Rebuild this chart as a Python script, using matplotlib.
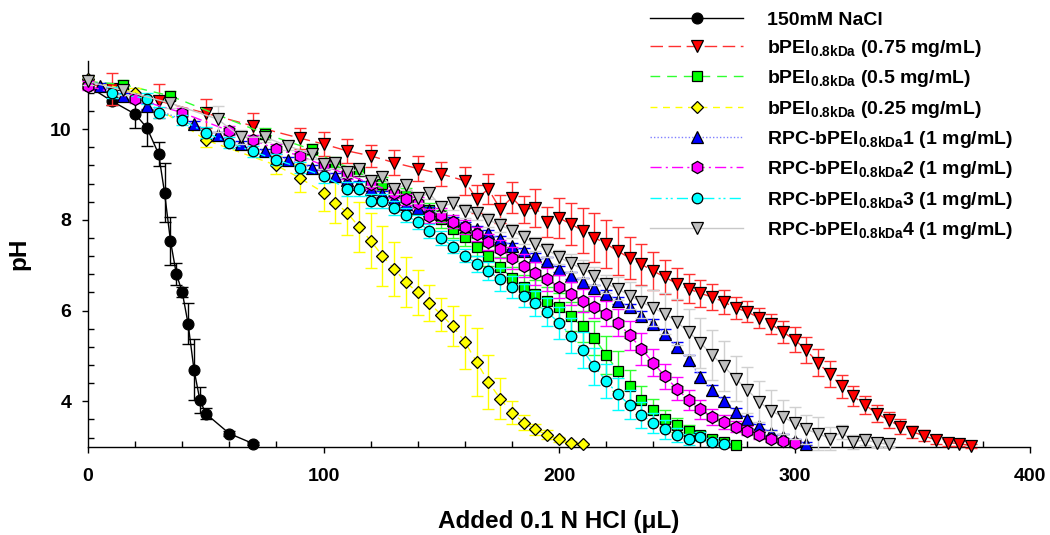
import matplotlib
matplotlib.use('Agg')
import matplotlib.pyplot as plt
from matplotlib.ticker import MultipleLocator

plt.rcParams['font.family'] = ['Liberation Sans', 'DejaVu Sans']
plt.rcParams['font.weight'] = 'bold'
plt.rcParams['mathtext.fontset'] = 'custom'
plt.rcParams['mathtext.rm'] = 'Liberation Sans:bold'
plt.rcParams['mathtext.bf'] = 'Liberation Sans:bold'
plt.rcParams['mathtext.it'] = 'Liberation Sans:bold'
plt.rcParams['mathtext.default'] = 'rm'

# 150mM NaCl
nacl_x = [0, 10, 20, 25, 30, 32.5, 35, 37.5, 40, 42.5, 45, 47.5, 50, 60, 70]
nacl_y = [10.95, 10.62, 10.33, 10.03, 9.45, 8.60, 7.54, 6.81, 6.41, 5.71, 4.70, 4.03, 3.73, 3.29, 3.07]
nacl_err = [0.05, 0.08, 0.30, 0.40, 0.27, 0.65, 0.53, 0.24, 0.10, 0.45, 0.68, 0.28, 0.13, 0.05, 0.03]

# bPEI 0.75 mg/mL
red_x = [0, 10, 30, 50, 70, 90, 100, 110, 120, 130, 140, 150, 160,
         165, 170, 175, 180, 185, 190, 195, 200, 205, 210, 215, 220, 225, 230, 235, 240, 245,
         250, 255, 260, 265, 270, 275, 280, 285, 290, 295, 300, 305, 310, 315, 320, 325,
         330, 335, 340, 345, 350, 355, 360, 365, 370, 375]
red_y = [11.0, 10.88, 10.62, 10.35, 10.07, 9.80, 9.67, 9.52, 9.41, 9.26, 9.13, 9.01, 8.86,
         8.46, 8.68, 8.24, 8.49, 8.22, 8.27, 7.96, 8.04, 7.91, 7.76, 7.61, 7.47, 7.31, 7.16, 7.02, 6.87, 6.74,
         6.59, 6.48, 6.38, 6.30, 6.19, 6.06, 5.97, 5.84, 5.70, 5.53, 5.36, 5.13, 4.85, 4.60, 4.33, 4.11,
         3.92, 3.73, 3.59, 3.44, 3.33, 3.24, 3.15, 3.09, 3.07, 3.02]
red_err = [0.10, 0.36, 0.38, 0.32, 0.29, 0.23, 0.26, 0.26, 0.24, 0.27, 0.27, 0.27, 0.31,
           0.30, 0.33, 0.30, 0.35, 0.30, 0.42, 0.33, 0.45, 0.47, 0.49, 0.53, 0.53, 0.53, 0.47, 0.45, 0.42, 0.38,
           0.35, 0.32, 0.30, 0.28, 0.26, 0.25, 0.23, 0.22, 0.22, 0.24, 0.28, 0.29, 0.30, 0.29, 0.26, 0.22,
           0.20, 0.18, 0.18, 0.17, 0.13, 0.12, 0.10, 0.08, 0.06, 0.04]

# bPEI 0.5 mg/mL
green_x = [0, 15, 35, 75, 95, 105, 115, 125, 135, 145,
           150, 155, 160, 165, 170, 175, 180, 185, 190, 195, 200, 205, 210, 215, 220,
           225, 230, 235, 240, 245, 250, 255, 260, 265, 270, 275]
green_y = [11.05, 10.98, 10.73, 9.90, 9.55, 9.26, 9.08, 8.80, 8.55, 8.22,
           8.02, 7.80, 7.62, 7.41, 7.20, 6.96, 6.72, 6.53, 6.37, 6.22, 6.08, 5.87, 5.65, 5.40, 5.02,
           4.67, 4.33, 4.03, 3.81, 3.62, 3.48, 3.35, 3.25, 3.18, 3.10, 3.03]
green_err = [0.08, 0.10, 0.10, 0.12, 0.12, 0.12, 0.12, 0.15, 0.15, 0.15,
             0.20, 0.20, 0.20, 0.20, 0.22, 0.22, 0.25, 0.25, 0.30, 0.30, 0.30, 0.32, 0.35, 0.38, 0.42,
             0.44, 0.37, 0.30, 0.25, 0.18, 0.15, 0.12, 0.10, 0.08, 0.06, 0.04]

# bPEI 0.25 mg/mL
yellow_x = [0, 20, 50, 80, 90, 100, 105, 110, 115, 120, 125, 130, 135, 140, 145, 150,
            155, 160, 165, 170, 175, 180, 185, 190, 195, 200, 205, 210]
yellow_y = [11.1, 10.8, 9.76, 9.20, 8.92, 8.60, 8.38, 8.16, 7.85, 7.54, 7.21, 6.92, 6.62, 6.40, 6.16, 5.91,
            5.65, 5.31, 4.87, 4.43, 4.06, 3.75, 3.53, 3.38, 3.26, 3.16, 3.09, 3.06]
yellow_err = [0.08, 0.10, 0.15, 0.20, 0.30, 0.40, 0.45, 0.50, 0.55, 0.60, 0.66, 0.60, 0.55, 0.50, 0.40, 0.37,
              0.44, 0.60, 0.75, 0.60, 0.46, 0.26, 0.17, 0.12, 0.10, 0.06, 0.04, 0.03]

# RPC-bPEI 1
blue_x = [5, 15, 25, 45, 55, 65, 75, 85, 95,
          105, 110, 115, 120, 125, 130, 135, 140, 145, 150, 155, 160, 165, 170, 175, 180,
          185, 190, 195, 200, 205, 210, 215, 220, 225, 230, 235, 240, 245, 250, 255, 260,
          265, 270, 275, 280, 285, 290, 295, 300, 305]
blue_y = [10.95, 10.73, 10.51, 10.11, 9.87, 9.67, 9.51, 9.32, 9.15,
          8.97, 8.88, 8.79, 8.69, 8.57, 8.46, 8.35, 8.26, 8.22, 8.12, 8.00, 7.90, 7.80, 7.70, 7.58, 7.43,
          7.31, 7.20, 7.10, 6.92, 6.77, 6.63, 6.49, 6.37, 6.22, 6.07, 5.89, 5.71, 5.49, 5.20, 4.91, 4.54,
          4.25, 4.01, 3.77, 3.60, 3.45, 3.31, 3.22, 3.12, 3.07]
blue_err = [0.06, 0.06, 0.06, 0.06, 0.06, 0.06, 0.06, 0.06, 0.06,
            0.06, 0.06, 0.06, 0.06, 0.06, 0.06, 0.06, 0.06, 0.06, 0.06, 0.06, 0.06, 0.07, 0.07, 0.07, 0.07,
            0.07, 0.07, 0.07, 0.07, 0.07, 0.08, 0.08, 0.08, 0.08, 0.08, 0.09, 0.10, 0.10, 0.10, 0.10, 0.10,
            0.10, 0.09, 0.08, 0.07, 0.06, 0.05, 0.05, 0.04, 0.04]

# RPC-bPEI 2
mag_x = [0, 20, 40, 60, 70, 80, 90, 100, 110, 120, 130,
         135, 140, 145, 150, 155, 160, 165, 170, 175, 180, 185, 190, 195, 200, 205, 210,
         215, 220, 225, 230, 235, 240, 245, 250, 255, 260, 265, 270, 275, 280, 285, 290, 295, 300]
mag_y = [10.95, 10.67, 10.36, 9.96, 9.76, 9.56, 9.41, 9.20, 9.00, 8.80, 8.60,
         8.45, 8.38, 8.09, 8.11, 7.96, 7.84, 7.69, 7.51, 7.36, 7.16, 6.99, 6.82, 6.69, 6.53, 6.37, 6.22,
         6.08, 5.93, 5.73, 5.46, 5.16, 4.85, 4.55, 4.28, 4.03, 3.82, 3.66, 3.54, 3.44, 3.35, 3.26, 3.18, 3.13, 3.09]
mag_err = [0.10, 0.10, 0.10, 0.10, 0.10, 0.10, 0.10, 0.10, 0.10, 0.12, 0.12,
           0.12, 0.12, 0.15, 0.15, 0.15, 0.15, 0.15, 0.18, 0.20, 0.25, 0.25, 0.25, 0.25, 0.25, 0.25, 0.25,
           0.25, 0.28, 0.30, 0.32, 0.35, 0.30, 0.27, 0.25, 0.22, 0.20, 0.18, 0.15, 0.12, 0.10, 0.08, 0.06, 0.05, 0.04]

# RPC-bPEI 3
cyan_x = [10, 25, 30, 40, 50, 60, 70, 80, 90, 100, 110,
          115, 120, 125, 130, 135, 140, 145, 150, 155, 160, 165, 170, 175, 180, 185,
          190, 195, 200, 205, 210, 215, 220, 225, 230, 235, 240, 245, 250, 255, 260, 265, 270]
cyan_y = [10.80, 10.67, 10.36, 10.20, 9.92, 9.70, 9.51, 9.32, 9.15, 8.97, 8.68,
          8.68, 8.42, 8.42, 8.26, 8.10, 7.95, 7.76, 7.60, 7.41, 7.21, 7.03, 6.87, 6.69, 6.52, 6.33,
          6.16, 5.97, 5.73, 5.45, 5.13, 4.77, 4.45, 4.16, 3.92, 3.70, 3.53, 3.38, 3.26, 3.16, 3.22, 3.11, 3.07]
cyan_err = [0.12, 0.12, 0.12, 0.12, 0.12, 0.12, 0.12, 0.12, 0.12, 0.15, 0.15,
            0.15, 0.15, 0.15, 0.15, 0.15, 0.15, 0.15, 0.15, 0.15, 0.15, 0.18, 0.20, 0.25, 0.25, 0.25,
            0.28, 0.30, 0.35, 0.38, 0.40, 0.40, 0.38, 0.35, 0.32, 0.28, 0.22, 0.20, 0.15, 0.12, 0.10, 0.08, 0.05]

# RPC-bPEI 4
gray_x = [0, 15, 35, 55, 65, 75, 85, 95,
          100, 105, 110, 115, 120, 125, 130, 135, 140, 145, 150, 155, 160, 165, 170,
          175, 180, 185, 190, 195, 200, 205, 210, 215, 220, 225, 230, 235, 240, 245,
          250, 255, 260, 265, 270, 275, 280, 285, 290, 295, 300, 305, 310, 315, 320,
          325, 330, 335, 340]
gray_y = [11.05, 10.85, 10.57, 10.22, 9.82, 9.82, 9.63, 9.44,
          9.24, 9.26, 9.06, 9.11, 8.86, 8.95, 8.68, 8.77, 8.49, 8.58, 8.29, 8.37, 8.20, 8.14, 8.00,
          7.89, 7.76, 7.62, 7.47, 7.34, 7.18, 7.04, 6.92, 6.77, 6.59, 6.48, 6.33, 6.19, 6.06, 5.93,
          5.75, 5.53, 5.29, 5.02, 4.77, 4.50, 4.25, 3.99, 3.79, 3.66, 3.52, 3.38, 3.29, 3.18, 3.32,
          3.11, 3.15, 3.09, 3.05]
gray_err = [0.08, 0.10, 0.10, 0.28, 0.15, 0.10, 0.10, 0.10,
            0.12, 0.12, 0.12, 0.12, 0.12, 0.12, 0.12, 0.12, 0.12, 0.12, 0.12, 0.15, 0.15, 0.15, 0.15,
            0.15, 0.15, 0.15, 0.15, 0.15, 0.15, 0.20, 0.20, 0.20, 0.20, 0.25, 0.30, 0.35, 0.40, 0.45,
            0.50, 0.50, 0.55, 0.55, 0.55, 0.50, 0.50, 0.45, 0.45, 0.38, 0.36, 0.31, 0.36, 0.25, 0.15,
            0.15, 0.12, 0.10, 0.05]

labels = [
    '150mM NaCl',
    r'bPEI$_{0.8kDa}$ (0.75 mg/mL)',
    r'bPEI$_{0.8kDa}$ (0.5 mg/mL)',
    r'bPEI$_{0.8kDa}$ (0.25 mg/mL)',
    r'RPC-bPEI$_{0.8kDa}$1 (1 mg/mL)',
    r'RPC-bPEI$_{0.8kDa}$2 (1 mg/mL)',
    r'RPC-bPEI$_{0.8kDa}$3 (1 mg/mL)',
    r'RPC-bPEI$_{0.8kDa}$4 (1 mg/mL)',
]

series = [
    (nacl_x, nacl_y, nacl_err, 'o', 7.8, 'black', 'black', 'black', '-'),
    (red_x, red_y, red_err, 'v', 8.2, '#ff0000', '#ff3030', '#ff3030', (0, (9, 4))),
    (green_x, green_y, green_err, 's', 6.8, '#00ff00', '#30ff30', '#30ff30', (0, (7, 5))),
    (yellow_x, yellow_y, yellow_err, 'D', 6.6, '#ffff00', '#ffff00', '#ffff00', (0, (5, 4))),
    (blue_x, blue_y, blue_err, '^', 8.2, '#0000ff', '#8080ff', '#0000ff', (0, (1, 1.5))),
    (mag_x, mag_y, mag_err, 'h', 8.8, '#ff00ff', '#ff00ff', '#ff00ff', (0, (8, 3, 1.5, 3))),
    (cyan_x, cyan_y, cyan_err, 'o', 7.6, '#00ffff', '#00ffff', '#00ffff', (0, (8, 3, 1.5, 2, 1.5, 3))),
    (gray_x, gray_y, gray_err, 'v', 8.2, '#c0c0c0', '#c8c8c8', '#d0d0d0', '-'),
]

fig = plt.figure(figsize=(10.5, 5.35), dpi=100)
ax = fig.add_axes([88 / 1050, 1 - 446.7 / 535, (1030 - 88) / 1050, (446.7 - 61) / 535])

handles = []
for i, (x, y, err, mk, ms, face, lc, ec, ls) in enumerate(series):
    z = 2 + i
    ax.errorbar(x, y, yerr=err, fmt='none', ecolor=ec, elinewidth=1.0,
                capsize=4, capthick=1.0, zorder=z, clip_on=False)
    line, = ax.plot(x, y, color=lc, lw=1.0, linestyle=ls, marker=mk, ms=ms,
                    mfc=face, mec='black', mew=0.9, zorder=z + 0.5, clip_on=False)
    handles.append(line)

ax.set_xlim(0, 400)
ax.set_ylim(3, 11.5)
ax.spines['top'].set_visible(False)
ax.spines['right'].set_visible(False)
ax.spines['left'].set_linewidth(1.0)
ax.spines['bottom'].set_linewidth(1.0)

ax.set_xticks([0, 100, 200, 300, 400])
ax.set_yticks([4, 6, 8, 10])
ax.xaxis.set_minor_locator(MultipleLocator(20))
ax.yaxis.set_minor_locator(MultipleLocator(0.4))
ax.tick_params(which='major', direction='out', length=4, width=1.0, labelsize=14)
ax.tick_params(which='minor', direction='in', length=4, width=1.0)
ax.tick_params(axis='x', which='major', pad=11)
ax.tick_params(axis='y', which='major', pad=8)

ax.set_xlabel(u'Added 0.1 N HCl (\u03bcL)', fontsize=17.5, fontweight='bold', labelpad=18)
ax.set_ylabel('pH', fontsize=17.5, fontweight='bold', labelpad=14)

ax.legend(handles, labels, loc='upper left', bbox_to_anchor=(650 / 1050, 1 - 11 / 535),
          bbox_transform=fig.transFigure, frameon=False, fontsize=14, numpoints=1,
          handlelength=4.8, handletextpad=1.24, labelspacing=0.48, borderpad=0,
          borderaxespad=0)

fig.savefig('out.png', dpi=100)
